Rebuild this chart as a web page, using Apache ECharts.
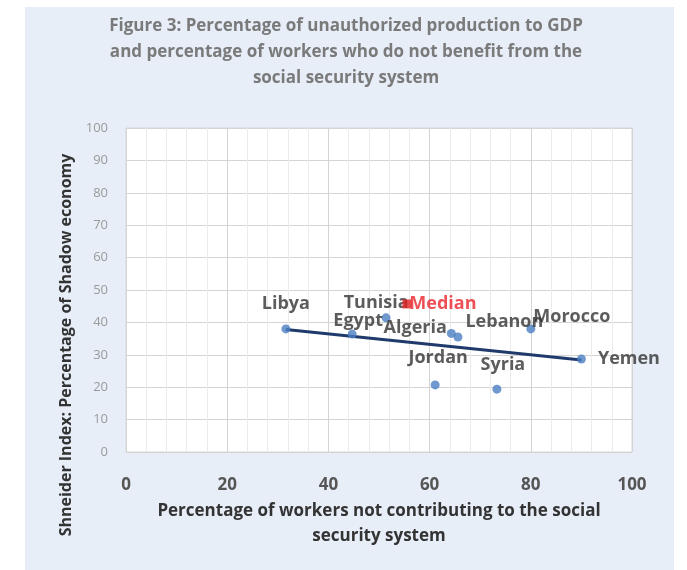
<!DOCTYPE html>
<html>
<head>
<meta charset="utf-8">
<script src="https://cdn.jsdelivr.net/npm/echarts@6/dist/echarts.min.js"></script>
<style>
  body { margin: 0; background: #fff; }
  #panel { position: absolute; left: 25px; top: 7px; width: 649px; height: 563px; background: #e7eef8; }
  #chart { position: absolute; left: 0; top: 0; width: 687px; height: 570px; }
</style>
</head>
<body>
<div id="panel"></div>
<div id="chart"></div>
<script>
const countries = ['Libya', 'Egypt', 'Tunisia', 'Algeria', 'Lebanon', 'Morocco', 'Jordan', 'Syria', 'Yemen']
const workersPct = [31.6, 44.7, 51.4, 64.3, 65.6, 80, 61.1, 73.3, 90]
const shadowPct = [38, 36.4, 41.4, 36.6, 35.5, 38, 20.7, 19.4, 28.7]
const medianPoint = [55.5, 45.7]
const trendX = [31.6, 90]
const trendY = [37.8, 28.4]
const xTicks = [0, 20, 40, 60, 80, 100]
const yTicks = [0, 10, 20, 30, 40, 50, 60, 70, 80, 90, 100]

// label placement for each country (styling only)
const labelPlace = {
  Libya: { position: 'top', distance: 12, offset: [0, 0] },
  Egypt: { position: 'top', distance: 0, offset: [6, 0] },
  Tunisia: { position: 'top', distance: 1, offset: [-10, 0] },
  Algeria: { position: 'left', distance: 0, offset: [0, -6] },
  Lebanon: { position: 'right', distance: 3, offset: [0, -15] },
  Morocco: { position: 'right', distance: -2, offset: [0, -12] },
  Jordan: { position: 'top', distance: 14, offset: [3, 0] },
  Syria: { position: 'top', distance: 11, offset: [6, 0] },
  Yemen: { position: 'right', distance: 12, offset: [0, 0] }
}

const font = '"Open Sans", Lato, sans-serif'

const countryData = countries.map((name, i) => ({
  name: name,
  value: [workersPct[i], shadowPct[i]],
  label: labelPlace[name]
}))

const chart = echarts.init(document.getElementById('chart'))

const option = {
  backgroundColor: 'transparent',
  animation: false,
  title: {
    text: 'Figure 3: Percentage of unauthorized production to GDP\nand percentage of workers who do not benefit from the\nsocial security system',
    left: 341,
    top: 8,
    textAlign: 'center',
    textStyle: {
      fontFamily: font,
      fontSize: 17,
      fontWeight: 'bold',
      color: '#7a7a7a',
      lineHeight: 26
    }
  },
  grid: {
    left: 126,
    right: 55,
    top: 128,
    bottom: 118,
    show: true,
    backgroundColor: '#ffffff',
    borderColor: '#d6d6d6',
    borderWidth: 1
  },
  graphic: [
    {
      type: 'text',
      x: 66,
      y: 345,
      rotation: Math.PI / 2,
      style: {
        text: 'Shneider Index: Percentage of Shadow economy',
        align: 'center',
        verticalAlign: 'middle',
        fontFamily: font,
        fontSize: 16,
        fontWeight: 'bold',
        fill: '#333333'
      }
    }
  ],
  xAxis: {
    type: 'value',
    min: xTicks[0],
    max: xTicks[xTicks.length - 1],
    interval: 20,
    name: 'Percentage of workers not contributing to the social\nsecurity system',
    nameLocation: 'middle',
    nameGap: 42,
    nameTextStyle: {
      fontFamily: font,
      fontSize: 17,
      fontWeight: 'bold',
      color: '#333333',
      lineHeight: 25,
      verticalAlign: 'top'
    },
    axisLine: { show: false },
    axisTick: { show: false },
    axisLabel: {
      margin: 25,
      fontFamily: font,
      fontSize: 17,
      fontWeight: 'bold',
      color: '#555555'
    },
    splitLine: { lineStyle: { color: '#d4d4d4', width: 1 } },
    minorTick: { show: false, splitNumber: 5 },
    minorSplitLine: { show: true, lineStyle: { color: '#ebebeb', width: 1 } }
  },
  yAxis: {
    type: 'value',
    min: yTicks[0],
    max: yTicks[yTicks.length - 1],
    interval: 10,
    axisLine: { show: false },
    axisTick: { show: false },
    axisLabel: {
      margin: 18,
      fontFamily: font,
      fontSize: 13,
      color: '#9a9a9a'
    },
    splitLine: { lineStyle: { color: '#d4d4d4', width: 1 } }
  },
  series: [
    {
      name: 'Trend',
      type: 'line',
      data: trendX.map((x, i) => [x, trendY[i]]),
      showSymbol: false,
      lineStyle: { color: '#1f3a6b', width: 3 },
      z: 3
    },
    {
      name: 'Countries',
      type: 'scatter',
      data: countryData,
      symbol: 'circle',
      symbolSize: 9,
      itemStyle: { color: '#4a7ec2' },
      label: {
        show: true,
        formatter: '{b}',
        fontFamily: font,
        fontSize: 18,
        fontWeight: 'bold',
        color: '#333333'
      },
      z: 4
    },
    {
      name: 'Median',
      type: 'scatter',
      data: [{ name: 'Median', value: medianPoint }],
      symbol: 'rect',
      symbolSize: 9,
      itemStyle: { color: '#e0201f' },
      label: {
        show: true,
        position: 'right',
        distance: -2,
        formatter: '{b}',
        fontFamily: font,
        fontSize: 18,
        fontWeight: 'bold',
        color: '#e8262a'
      },
      z: 5
    }
  ]
}

chart.setOption(option)
</script>
</body>
</html>
